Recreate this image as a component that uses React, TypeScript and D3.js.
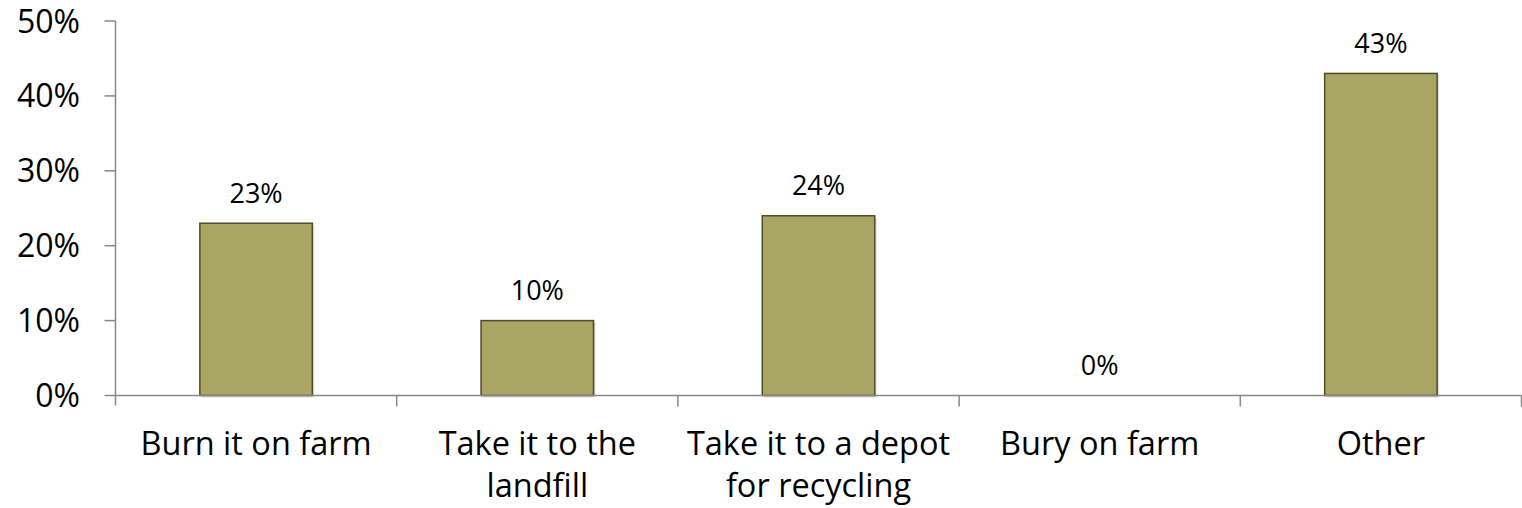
import React, { useEffect, useRef } from 'react';
import * as d3 from 'd3';

const categories = [
  ['Burn it on farm'],
  ['Take it to the', 'landfill'],
  ['Take it to a depot', 'for recycling'],
  ['Bury on farm'],
  ['Other'],
];
const values = [23, 10, 24, 0, 43];
const yTicks = [0, 10, 20, 30, 40, 50];

const FONT = '"Open Sans", "Noto Sans", sans-serif';

export default function App() {
  const ref = useRef<SVGSVGElement>(null);

  useEffect(() => {
    if (!ref.current) return;
    const svg = d3.select(ref.current);
    svg.selectAll('*').remove();

    const width = 1522;
    const height = 508;
    const left = 115.5;
    const right = 1521.5;
    const top = 21;
    const bottom = 395.5;

    const keys = categories.map((c) => c.join(' '));
    const x = d3.scaleBand().domain(keys).range([left, right]).paddingInner(0.6).paddingOuter(0.3);
    const xEdge = d3.scaleLinear().domain([0, keys.length]).range([left, right]);
    const y = d3.scaleLinear().domain([0, 50]).range([bottom, top]);

    svg.attr('width', width).attr('height', height);

    // bars with a faint shadow
    svg.append('g')
      .selectAll('rect')
      .data(values)
      .join('rect')
      .attr('x', (_, i) => x(keys[i])! + 2)
      .attr('y', (d) => y(d) + 2)
      .attr('width', x.bandwidth())
      .attr('height', (d) => bottom - y(d))
      .attr('fill', '#000')
      .attr('opacity', (d) => (d > 0 ? 0.12 : 0));

    svg.append('g')
      .selectAll('rect')
      .data(values)
      .join('rect')
      .attr('x', (_, i) => x(keys[i])!)
      .attr('y', (d) => y(d))
      .attr('width', x.bandwidth())
      .attr('height', (d) => bottom - y(d))
      .attr('fill', '#A9A563')
      .attr('stroke', (d) => (d > 0 ? '#4F4B2B' : 'none'))
      .attr('stroke-width', 1.5);

    // axes
    const axisColor = '#888888';
    svg.append('line')
      .attr('x1', left).attr('x2', left)
      .attr('y1', top).attr('y2', bottom + 10)
      .attr('stroke', axisColor).attr('stroke-width', 1.5);
    svg.append('line')
      .attr('x1', left).attr('x2', right)
      .attr('y1', bottom).attr('y2', bottom)
      .attr('stroke', axisColor).attr('stroke-width', 1.5);

    svg.append('g')
      .selectAll('line')
      .data(yTicks)
      .join('line')
      .attr('x1', left - 11).attr('x2', left)
      .attr('y1', (d) => y(d)).attr('y2', (d) => y(d))
      .attr('stroke', axisColor).attr('stroke-width', 1.5);

    svg.append('g')
      .selectAll('line')
      .data(d3.range(1, keys.length + 1))
      .join('line')
      .attr('x1', (d) => xEdge(d)).attr('x2', (d) => xEdge(d))
      .attr('y1', bottom).attr('y2', bottom + 11)
      .attr('stroke', axisColor).attr('stroke-width', 1.5);

    svg.append('g')
      .selectAll('text')
      .data(yTicks)
      .join('text')
      .attr('x', 80)
      .attr('y', (d) => y(d))
      .attr('dy', '0.36em')
      .attr('text-anchor', 'end')
      .attr('font-family', FONT)
      .attr('font-size', 32)
      .attr('fill', '#000')
      .text((d) => `${d}%`);

    // category labels
    const cat = svg.append('g')
      .selectAll('text')
      .data(categories)
      .join('text')
      .attr('x', (_, i) => x(keys[i])! + x.bandwidth() / 2)
      .attr('y', 455)
      .attr('text-anchor', 'middle')
      .attr('font-family', FONT)
      .attr('font-size', 32.5)
      .attr('fill', '#000');
    cat.selectAll('tspan')
      .data((d) => d)
      .join('tspan')
      .attr('x', function () {
        return (this.parentNode as SVGTextElement).getAttribute('x');
      })
      .attr('dy', (_, j) => (j === 0 ? 0 : 42))
      .text((d) => d);

    // value labels
    svg.append('g')
      .selectAll('text')
      .data(values)
      .join('text')
      .attr('x', (_, i) => x(keys[i])! + x.bandwidth() / 2)
      .attr('y', (d) => y(d) - 20.5)
      .attr('text-anchor', 'middle')
      .attr('font-family', FONT)
      .attr('font-size', 27)
      .attr('fill', '#000')
      .text((d) => `${d}%`);
  }, []);

  return <svg ref={ref} style={{ position: 'absolute', left: 0, top: 0 }} />;
}
